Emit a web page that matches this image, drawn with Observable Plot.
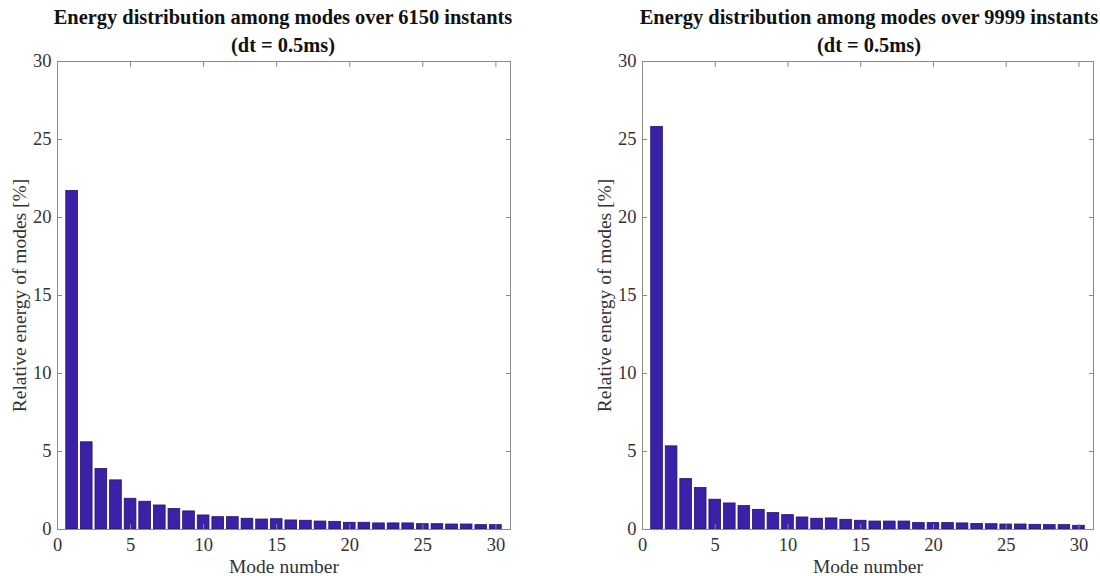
<!DOCTYPE html>
<html>
<head>
<meta charset="utf-8">
<script src="https://cdn.jsdelivr.net/npm/d3@7"></script>
<script src="https://cdn.jsdelivr.net/npm/@observablehq/plot@0.6"></script>
<style>
  html, body { margin: 0; padding: 0; background: #fff; }
  body { width: 1100px; height: 576px; position: relative; overflow: hidden; font-family: "Liberation Serif", "Times New Roman", serif; }
  .panel { position: absolute; top: 0; width: 550px; height: 576px; }
  .title { position: absolute; top: 3px; width: 100%; text-align: center; font-weight: bold; font-size: 20.4px; line-height: 28px; color: #111; white-space: nowrap; }
  .chart { position: absolute; top: 50px; left: 0; }
</style>
</head>
<body>
<div id="p1" class="panel" style="left:0px"><div class="title" style="left:8px">Energy distribution among modes over 6150 instants<br>(dt = 0.5ms)</div><div class="chart"></div></div>
<div id="p2" class="panel" style="left:550px"><div class="title" style="left:44px">Energy distribution among modes over 9999 instants<br>(dt = 0.5ms)</div><div class="chart"></div></div>
<script>
const modes = d3.range(1, 31);
const energy6150 = [21.7, 5.59, 3.88, 3.15, 1.97, 1.78, 1.54, 1.31, 1.16, 0.90,
                    0.79, 0.79, 0.69, 0.64, 0.66, 0.58, 0.56, 0.51, 0.49, 0.43,
                    0.43, 0.39, 0.39, 0.39, 0.34, 0.34, 0.32, 0.32, 0.28, 0.28];
const energy9999 = [25.8, 5.33, 3.23, 2.66, 1.91, 1.67, 1.50, 1.26, 1.05, 0.92,
                    0.77, 0.69, 0.71, 0.62, 0.56, 0.51, 0.51, 0.51, 0.41, 0.41,
                    0.41, 0.39, 0.36, 0.34, 0.32, 0.32, 0.30, 0.28, 0.28, 0.24];
const xTicks = [0, 5, 10, 15, 20, 25, 30];
const yTicks = [0, 5, 10, 15, 20, 25, 30];
const xLabel = "Mode number";
const yLabel = "Relative energy of modes [%]";

function chart(values, marginLeft, marginRight) {
  const data = modes.map((m, i) => ({mode: m, value: values[i]}));
  const axisColor = "#8a8a8a";
  return Plot.plot({
    width: 550,
    height: 526,
    marginLeft, marginRight,
    marginTop: 11,
    marginBottom: 47,
    style: {fontFamily: "'Liberation Serif', 'Times New Roman', serif", fontSize: "18.5px", color: "#333", background: "transparent"},
    x: {domain: [0, 31]},
    y: {domain: [0, 30]},
    marks: [
      Plot.rectY(data, {x1: d => d.mode - 0.4, x2: d => d.mode + 0.4, y: "value", fill: "#3a22a8", stroke: "#23136e", strokeWidth: 0.8}),
      Plot.frame({stroke: axisColor, strokeWidth: 1}),
      Plot.axisX({ticks: xTicks, anchor: "bottom", tickSize: 0, tickPadding: 8, fontSize: 18.5, label: null}),
      Plot.axisX({ticks: xTicks, anchor: "bottom", tickSize: 0, tickFormat: () => "", label: xLabel, labelAnchor: "center", labelArrow: "none", labelOffset: 43, fontSize: 19.5}),
      Plot.axisX({ticks: xTicks, anchor: "bottom", tickSize: -5, tickFormat: () => "", label: null, stroke: axisColor}),
      Plot.axisX({ticks: xTicks, anchor: "top", tickSize: -5, tickFormat: () => "", label: null, stroke: axisColor}),
      Plot.axisY({ticks: yTicks, anchor: "left", tickSize: 0, tickPadding: 6, fontSize: 18.5, label: null}),
      Plot.axisY({ticks: yTicks, anchor: "left", tickSize: 0, tickFormat: () => "", label: yLabel, labelAnchor: "center", labelArrow: "none", labelOffset: 45, fontSize: 19.5}),
      Plot.axisY({ticks: yTicks, anchor: "left", tickSize: -5, tickFormat: () => "", label: null, stroke: axisColor}),
      Plot.axisY({ticks: yTicks, anchor: "right", tickSize: -5, tickFormat: () => "", label: null, stroke: axisColor})
    ]
  });
}
document.querySelector("#p1 .chart").append(chart(energy6150, 57, 40));
document.querySelector("#p2 .chart").append(chart(energy9999, 92, 7));
</script>
</body>
</html>
